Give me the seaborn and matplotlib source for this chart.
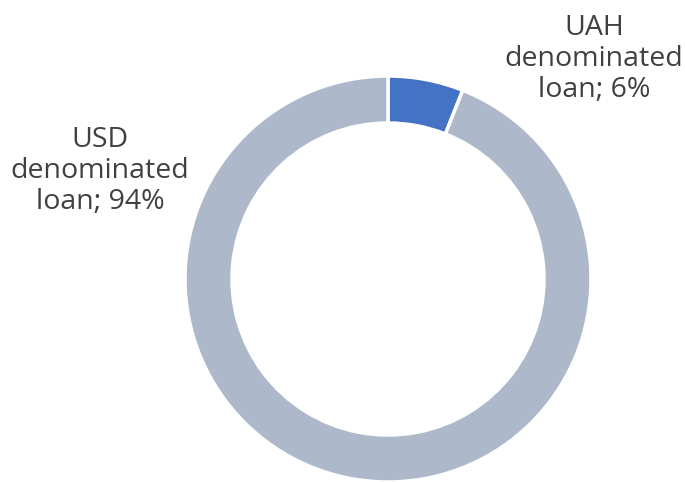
import matplotlib
matplotlib.use("Agg")
import matplotlib.pyplot as plt
import seaborn as sns

# Loan currency split (share of portfolio, %)
categories = ["UAH\ndenominated\nloan", "USD\ndenominated\nloan"]
shares = [6, 94]
colors = ["#4472C4", "#ADB9CA"]

sns.set_theme(style="white")
plt.rcParams["font.family"] = ["Open Sans", "DejaVu Sans"]

W, H = 685, 482
fig = plt.figure(figsize=(W / 100, H / 100), dpi=100)
ax = fig.add_axes([0, 0, 1, 1])

outer_r = 203
ring_w = 47
center = (388, H - 279)

ax.pie(
    shares,
    colors=colors,
    startangle=90,
    counterclock=False,
    radius=outer_r,
    center=center,
    wedgeprops=dict(width=ring_w, edgecolor="white", linewidth=2.5),
    frame=True,
)
ax.set_xlim(0, W)
ax.set_ylim(0, H)
ax.set_aspect("equal")
ax.axis("off")

text_color = "#404040"
label_pos = [(594, H - 59), (100, H - 171)]
for name, val, (x, y) in zip(categories, shares, label_pos):
    ax.text(x, y, f"{name}; {val}%", ha="center", va="center",
            multialignment="center", fontsize=20.5, color=text_color,
            linespacing=1.15)

fig.savefig("out.png", dpi=100)
